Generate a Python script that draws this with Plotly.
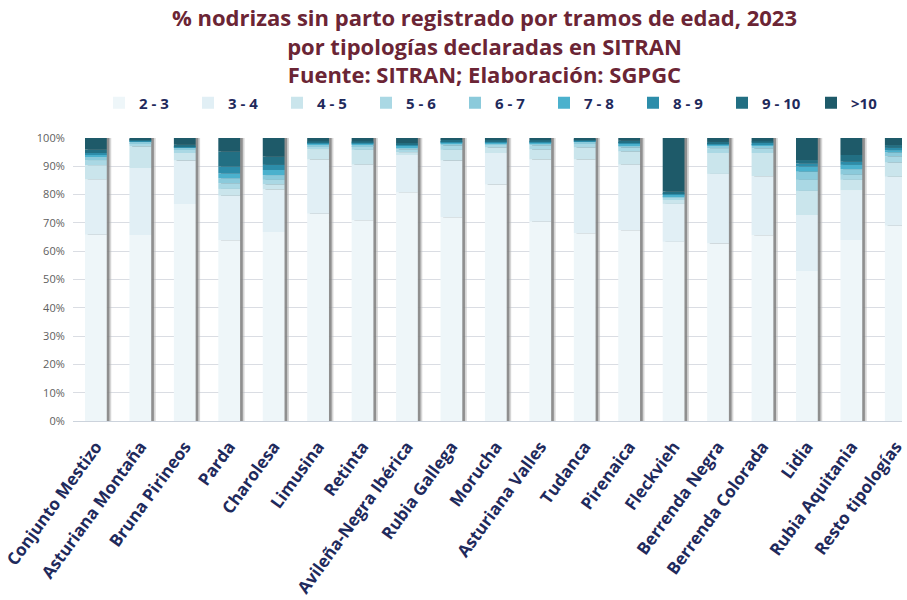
import plotly.graph_objects as go

categories = [
    "Conjunto Mestizo", "Asturiana Montaña", "Bruna Pirineos", "Parda", "Charolesa",
    "Limusina", "Retinta", "Avileña-Negra Ibérica", "Rubia Gallega", "Morucha",
    "Asturiana Valles", "Tudanca", "Pirenaica", "Fleckvieh", "Berrenda Negra",
    "Berrenda Colorada", "Lidia", "Rubia Aquitania", "Resto tipologías",
]

tramos = ["2 - 3", "3 - 4", "4 - 5", "5 - 6", "6 - 7", "7 - 8", "8 - 9", "9 - 10", ">10"]

# share (%) of nurse cows without registered calving, by age band
s_2_3 = [65.8, 65.7, 76.7, 63.9, 66.8, 73.2, 70.9, 80.8, 72.0, 83.5, 70.4, 66.3, 67.4, 63.3, 62.7, 65.6, 53.0, 64.0, 69.0]
s_3_4 = [19.6, 23.7, 15.3, 15.7, 15.0, 19.2, 19.7, 13.2, 20.0, 11.2, 22.0, 26.1, 23.2, 13.4, 24.6, 20.9, 19.8, 17.6, 17.3]
s_4_5 = [5.0, 7.6, 2.7, 2.4, 1.8, 3.7, 5.2, 1.0, 3.8, 1.9, 3.5, 4.2, 4.6, 1.4, 7.4, 8.2, 8.5, 3.6, 5.0]
s_5_6 = [1.8, 1.2, 1.2, 2.0, 1.6, 1.0, 1.3, 1.0, 1.5, 1.0, 1.5, 1.3, 1.4, 0.8, 1.7, 1.6, 3.9, 1.8, 2.2]
s_6_7 = [1.2, 0.5, 0.6, 1.8, 1.7, 0.6, 0.7, 0.8, 0.8, 0.6, 0.8, 0.7, 0.8, 0.6, 1.0, 1.0, 2.9, 2.0, 1.4]
s_7_8 = [0.6, 0.2, 0.3, 1.7, 1.8, 0.3, 0.3, 0.4, 0.4, 0.3, 0.3, 0.3, 0.5, 0.4, 0.4, 0.5, 1.8, 1.5, 0.8]
s_8_9 = [0.7, 0.2, 0.3, 2.4, 1.8, 0.3, 0.3, 0.4, 0.4, 0.3, 0.3, 0.3, 0.5, 0.5, 0.4, 0.5, 1.1, 1.1, 0.8]
s_9_10 = [1.2, 0.3, 0.5, 5.3, 2.9, 0.5, 0.4, 0.6, 0.5, 0.4, 0.4, 0.3, 0.6, 0.7, 0.4, 0.5, 1.2, 2.4, 1.0]
s_10_plus = [4.1, 0.6, 2.4, 4.8, 6.6, 1.2, 1.2, 1.8, 0.6, 0.8, 0.8, 0.5, 1.0, 18.9, 1.4, 1.2, 7.8, 6.0, 2.5]

series = [s_2_3, s_3_4, s_4_5, s_5_6, s_6_7, s_7_8, s_8_9, s_9_10, s_10_plus]
colors = ["#EEF6F9", "#E1EFF5", "#CAE5EC", "#AAD8E4", "#8BCADB", "#4BB1CD", "#2C8DAA", "#226F83", "#1E5A69"]

title_lines = [
    "% nodrizas sin parto registrado por tramos de edad, 2023",
    "por tipologías declaradas en SITRAN",
    "Fuente: SITRAN; Elaboración: SGPGC",
]

BAR_W = 0.49
FONT = "Open Sans"
NAVY = "#1F2A5C"
W, H = 907, 600

fig = go.Figure()

# soft drop shadow to the right of every column
totals = [sum(v) for v in zip(*series)]
for dx, col in [(0.10, "rgba(185,185,185,0.6)"), (0.06, "rgba(125,125,125,0.8)")]:
    fig.add_trace(go.Bar(
        x=categories, y=totals, width=BAR_W, offset=-BAR_W / 2 + dx,
        marker=dict(color=col, line_width=0), showlegend=False, hoverinfo="skip",
    ))

# stacked age bands
base = [0.0] * len(categories)
for name, vals, col in zip(tramos, series, colors):
    fig.add_trace(go.Bar(
        x=categories, y=vals, base=list(base), name=name, width=BAR_W, offset=-BAR_W / 2,
        marker=dict(color=col, line_width=0),
    ))
    base = [b + v for b, v in zip(base, vals)]

# three-line centred title
fig.add_annotation(
    text="<br>".join(title_lines), xref="paper", yref="paper",
    x=(487 - 73) / (W - 73), xanchor="center",
    y=1 + (138 - 46) / 283, yanchor="middle",
    showarrow=False, align="center",
    font=dict(family=FONT, size=22, color="#6B2535", weight="bold"),
)

fig.update_layout(
    width=W, height=H,
    margin=dict(l=73, r=0, t=138, b=179),
    barmode="overlay",
    plot_bgcolor="white", paper_bgcolor="white",
    legend=dict(
        orientation="h", xref="container", yref="container",
        x=99 / W, xanchor="left", y=1 - 103 / H, yanchor="middle",
        font=dict(family=FONT, size=15, color=NAVY, weight="bold"),
        itemwidth=30, entrywidth=44, traceorder="normal",
    ),
    font=dict(family=FONT),
)

fig.update_xaxes(
    range=[-0.515, 18.14],
    tickangle=-54,
    tickfont=dict(family=FONT, size=17, color=NAVY, weight="bold"),
    ticks="outside", ticklen=8, tickcolor="rgba(0,0,0,0)",
    showgrid=False, showline=False,
)
fig.update_yaxes(
    range=[0, 100], dtick=10, ticksuffix="%",
    tickfont=dict(family=FONT, size=11, color="#5E5E5E"),
    ticks="outside", ticklen=5, tickcolor="rgba(0,0,0,0)",
    gridcolor="#DADDE3", gridwidth=1,
    zeroline=True, zerolinecolor="#CCD3DC", zerolinewidth=1,
)

fig.write_html("out.html")
